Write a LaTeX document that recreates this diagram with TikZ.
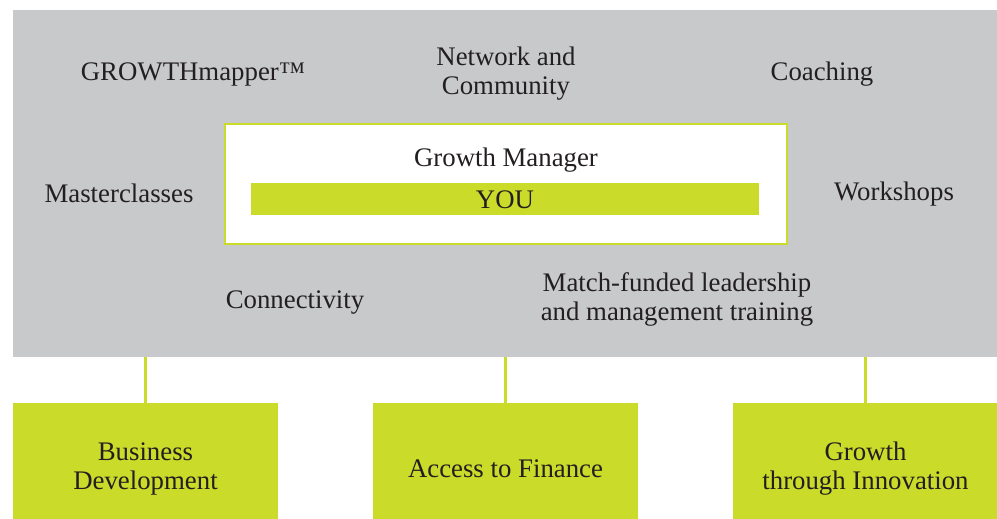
\documentclass[tikz,border=0pt]{standalone}
\usepackage{fontspec}
\setmainfont{Liberation Serif}
\definecolor{lime}{HTML}{CADB2A}
\definecolor{panelgrey}{HTML}{C8C9CB}
\definecolor{ink}{HTML}{231F20}
\tikzset{
  txt/.style={text=ink, font=\fontsize{13.4}{14.5}\selectfont, align=center, inner sep=0pt},
  pillar/.style={txt, fill=lime, minimum width=132.5pt, minimum height=65.5pt},
  link/.style={draw=lime, line width=1.1pt}
}
\begin{document}
\begin{tikzpicture}[x=0.5pt, y=-0.5pt]
        \useasboundingbox (0,0) rectangle (997,519);
        % grey panel and centre box
        \node [fill=panelgrey, minimum width=492pt, minimum height=173.5pt, inner sep=0pt] (board) at (505,183.5) {};
        \node [fill=white, draw=lime, line width=0.6pt, minimum width=281pt, minimum height=60pt, inner sep=0pt] (centre) at (506,184) {};
        \node [fill=lime, minimum width=254pt, minimum height=16pt, inner sep=0pt] (bar) at (505,199) {};
        \node [txt] (you) at (505,200) {YOU};
        \node [txt] (manager) at (506,160.5) {Growth Manager};
        % services
        \node [txt] (mapper) at (193,74.5) {GROWTHmapper™};
        \node [txt] (network) at (506,73.5) {Network and\\Community};
        \node [txt] (coaching) at (822,74) {Coaching};
        \node [txt] (master) at (119,193.5) {Masterclasses};
        \node [txt] (workshops) at (894,194) {Workshops};
        \node [txt] (connect) at (295,302.5) {Connectivity};
        \node [txt] (training) at (677,299.5) {Match-funded leadership\\and management training};
        % pillars
        \node [pillar] (biz) at (145.5,468.5) {Business\\Development};
        \node [pillar] (finance) at (505.5,468.5) {Access to Finance};
        \node [pillar] (innov) at (865.5,468.5) {Growth\\through Innovation};
        \draw [link] (biz.north) -- (biz.north |- board.south);
        \draw [link] (finance.north) -- (finance.north |- board.south);
        \draw [link] (innov.north) -- (innov.north |- board.south);
    \end{tikzpicture}
\end{document}
